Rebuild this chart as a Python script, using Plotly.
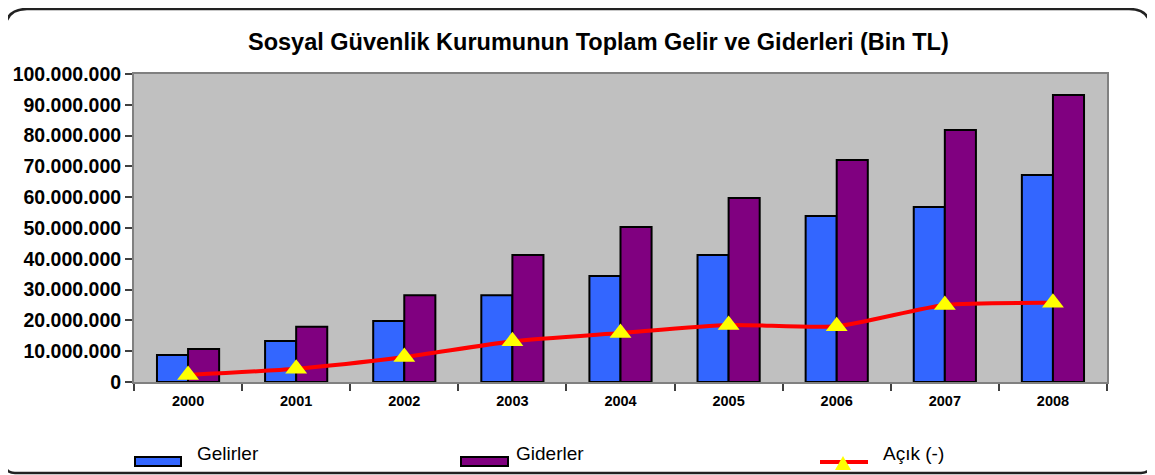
import plotly.graph_objects as go

years = ["2000", "2001", "2002", "2003", "2004", "2005", "2006", "2007", "2008"]
gelirler = [8.8e6, 13.3e6, 19.8e6, 28.2e6, 34.4e6, 41.2e6, 53.9e6, 56.8e6, 67.2e6]
giderler = [10.7e6, 17.9e6, 28.2e6, 41.2e6, 50.3e6, 59.7e6, 72.1e6, 81.8e6, 93.2e6]
acik = [2.3e6, 4.3e6, 8.1e6, 13.2e6, 15.9e6, 18.5e6, 18.1e6, 25.0e6, 25.7e6]
y_ticks = [0, 10e6, 20e6, 30e6, 40e6, 50e6, 60e6, 70e6, 80e6, 90e6, 100e6]

OFF = 8  # page body margin
W, H = 1155 - OFF, 475 - OFF
L, R, T, B = 134 - OFF, 1107 - OFF, 74 - OFF, 382 - OFF


def px(x):
    return (x - OFF - L) / (R - L)


def py(y):
    return (B - (y - OFF)) / (B - T)


FONT = "Liberation Sans, Arial"

fig = go.Figure()
fig.add_trace(go.Bar(x=years, y=gelirler, name="Gelirler",
                     marker=dict(color="#3366FF", line=dict(color="black", width=2))))
fig.add_trace(go.Bar(x=years, y=giderler, name="Giderler",
                     marker=dict(color="#800080", line=dict(color="black", width=2))))
fig.add_trace(go.Scatter(x=years, y=acik, name="Açık (-)", mode="lines+markers",
                         line=dict(color="#FF0000", width=4, shape="spline", smoothing=0.6),
                         marker=dict(symbol="triangle-up", size=19, color="#FFFF00")))

shapes = []
# frame with rounded corners
x0, x1, y0, y1 = px(5), px(1151), py(9), py(473)
rx, ry = 22 / (R - L), 22 / (B - T)
rx2, ry2 = 10 / (R - L), 10 / (B - T)
path = (f"M {x0+rx},{y0} L {x1-rx},{y0} Q {x1},{y0} {x1},{y0-ry} "
        f"L {x1},{y1+ry2} Q {x1},{y1} {x1-rx2},{y1} "
        f"L {x0+rx2},{y1} Q {x0},{y1} {x0},{y1+ry2} "
        f"L {x0},{y0-ry} Q {x0},{y0} {x0+rx},{y0} Z")
shapes.append(dict(type="path", xref="paper", yref="paper", path=path,
                   line=dict(color="#222222", width=2.5), layer="below"))

# legend
shapes.append(dict(type="rect", xref="paper", yref="paper",
                   x0=px(135), x1=px(181), y0=py(466), y1=py(457),
                   fillcolor="#3366FF", line=dict(color="black", width=2)))
shapes.append(dict(type="rect", xref="paper", yref="paper",
                   x0=px(461), x1=px(508), y0=py(466), y1=py(457),
                   fillcolor="#800080", line=dict(color="black", width=2)))
shapes.append(dict(type="line", xref="paper", yref="paper",
                   x0=px(820), x1=px(868), y0=py(462), y1=py(462),
                   line=dict(color="#FF0000", width=4)))
shapes.append(dict(type="path", xref="paper", yref="paper",
                   path=f"M {px(835)},{py(470)} L {px(851)},{py(470)} L {px(843)},{py(456)} Z",
                   fillcolor="#FFFF00", line=dict(width=0)))

annotations = [
    dict(text="<b>Sosyal Güvenlik Kurumunun Toplam Gelir ve Giderleri (Bin TL)</b>",
         xref="paper", yref="paper", x=px(598), y=py(42), showarrow=False,
         font=dict(family=FONT, size=23.5, color="black"),
         xanchor="center", yanchor="middle"),
    dict(text="Gelirler", xref="paper", yref="paper", x=px(195), y=py(453),
         showarrow=False, xanchor="left", yanchor="middle",
         font=dict(family=FONT, size=19, color="black")),
    dict(text="Giderler", xref="paper", yref="paper", x=px(514), y=py(453),
         showarrow=False, xanchor="left", yanchor="middle",
         font=dict(family=FONT, size=19, color="black")),
    dict(text="Açık (-)", xref="paper", yref="paper", x=px(881), y=py(453),
         showarrow=False, xanchor="left", yanchor="middle",
         font=dict(family=FONT, size=19, color="black")),
]

fig.update_layout(
    width=W, height=H,
    margin=dict(l=L, r=W - R, t=T, b=H - B),
    paper_bgcolor="white", plot_bgcolor="#C0C0C0",
    barmode="group", bargap=0.425, bargroupgap=0,
    showlegend=False, separators=",.",
    shapes=shapes, annotations=annotations,
    font=dict(family=FONT, color="black"),
)
fig.update_xaxes(type="category", range=[-0.5, len(years) - 0.5],
                 showgrid=False, showline=True, linecolor="#808080",
                 linewidth=2, mirror=True, ticks="outside", tickson="boundaries",
                 ticklen=7, tickcolor="#404040", tickwidth=1.5,
                 tickfont=dict(size=14.5, family=FONT, weight="bold"),
                 ticklabelstandoff=5, automargin=False)
fig.update_yaxes(range=[0, 100e6], tickvals=y_ticks, tickformat=",d", showgrid=False,
                 showline=True, linecolor="#808080", linewidth=2, mirror=True,
                 ticks="outside", ticklen=7, tickcolor="#404040", tickwidth=1.5,
                 tickfont=dict(size=19.5, family=FONT, weight="bold"),
                 zeroline=False, automargin=False)

fig.write_html("out.html")
